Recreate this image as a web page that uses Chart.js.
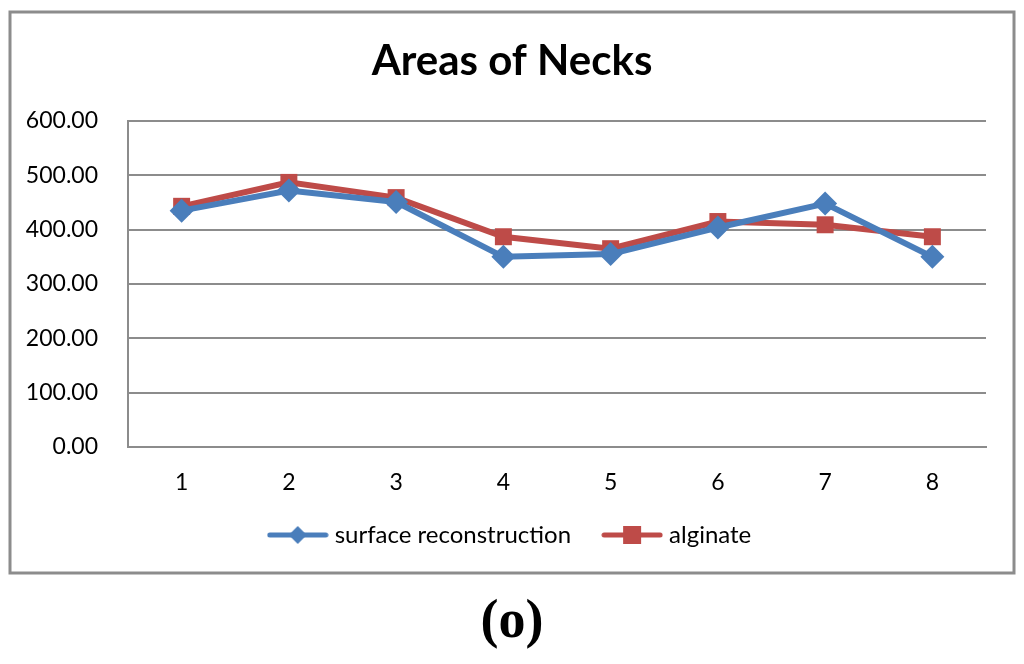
<!DOCTYPE html>
<html>
<head>
<meta charset="utf-8">
<script src="https://cdn.jsdelivr.net/npm/chart.js@4"></script>
<style>
  body { margin: 0; background: #fff; }
  #wrap { position: relative; width: 1024px; height: 664px; }
  #myChart { position: absolute; left: 0; top: 0; }
  #caption { position: absolute; left: 0; width: 1024px; top: 588px; text-align: center;
    font-family: "Liberation Serif", "DejaVu Serif", serif; font-weight: bold; font-size: 54px; color: #000; }
</style>
</head>
<body>
<div id="wrap">
  <canvas id="myChart" width="1024" height="664"></canvas>
  <div id="caption">(o)</div>
</div>
<script>
const categories = ['1', '2', '3', '4', '5', '6', '7', '8'];
const surfaceReconstruction = [435, 472, 451, 350, 355, 404, 448, 350];
const alginate = [443, 487, 459, 387, 365, 415, 409, 387];
const yTicks = [0, 100, 200, 300, 400, 500, 600];

const BLUE = '#4a7ebb';
const RED = '#be4b48';
const FONT = 'Lato, "Open Sans", sans-serif';

// legend swatch: line with marker on it
const makeSwatch = (color, shape) => {
  const c = document.createElement('canvas');
  c.width = 62; c.height = 24;
  const g = c.getContext('2d');
  g.strokeStyle = color; g.lineWidth = 5; g.lineCap = 'round';
  g.beginPath(); g.moveTo(3, 12); g.lineTo(59, 12); g.stroke();
  g.fillStyle = color;
  if (shape === 'diamond') {
    g.beginPath(); g.moveTo(31, 3); g.lineTo(40, 12); g.lineTo(31, 21); g.lineTo(22, 12); g.closePath(); g.fill();
  } else {
    g.fillRect(22, 3, 18, 18);
  }
  return c;
};

const frame = {
  id: 'frame',
  beforeDraw(chart) {
    const ctx = chart.ctx;
    ctx.save();
    ctx.fillStyle = '#fff';
    ctx.fillRect(0, 0, chart.width, chart.height);
    ctx.strokeStyle = '#8c8c8c';
    ctx.lineWidth = 3;
    ctx.strokeRect(10, 12, 1004, 561);
    ctx.restore();
  }
};

const ctx = document.getElementById('myChart').getContext('2d');
const myChart = new Chart(ctx, {
  type: 'line',
  data: {
    labels: categories,
    datasets: [
      {
        label: 'surface reconstruction',
        data: surfaceReconstruction,
        borderColor: BLUE,
        backgroundColor: BLUE,
        borderWidth: 6,
        pointStyle: 'rectRot',
        pointRadius: 12,
        pointBorderWidth: 0,
        tension: 0,
      },
      {
        label: 'alginate',
        data: alginate,
        borderColor: RED,
        backgroundColor: RED,
        borderWidth: 6,
        pointStyle: 'rect',
        pointRadius: 12,
        pointBorderWidth: 0,
        tension: 0,
      },
    ],
  },
  options: {
    responsive: false,
    animation: false,
    events: [],
    layout: { padding: { left: 0, right: 0, top: 0, bottom: 107 } },
    plugins: {
      title: {
        display: true,
        text: 'Areas of Necks',
        color: '#000',
        font: { family: FONT, size: 42, weight: 'bold' },
        padding: { top: 36, bottom: 34.6 },
      },
      legend: {
        position: 'bottom',
        labels: {
          color: '#000',
          font: { family: FONT, size: 24 },
          usePointStyle: true,
          pointStyleWidth: 50,
          padding: 36,
          generateLabels: (chart) => chart.data.datasets.map((ds, i) => ({
            text: ds.label,
            pointStyle: makeSwatch(ds.borderColor, i === 0 ? 'diamond' : 'square'),
            fillStyle: ds.borderColor,
            strokeStyle: ds.borderColor,
            lineWidth: 0,
            datasetIndex: i,
            hidden: false,
          })),
        },
      },
      tooltip: { enabled: false },
    },
    scales: {
      x: {
        offset: true,
        grid: { display: false, drawTicks: false },
        border: { color: '#8c8c8c', width: 2 },
        // mirror keeps the labels from being clipped to the short axis box
        ticks: { color: '#000', font: { family: FONT, size: 23 }, mirror: true, padding: -49 },
        afterFit: (s) => { s.height = 40; },
      },
      y: {
        min: 0,
        max: 600,
        afterBuildTicks: (s) => { s.ticks = yTicks.map((v) => ({ value: v })); },
        grid: { color: '#8c8c8c', lineWidth: 2, drawTicks: false },
        border: { color: '#8c8c8c', width: 2 },
        ticks: {
          color: '#000',
          font: { family: FONT, size: 23 },
          padding: 30,
          callback: (v) => Number(v).toFixed(2),
        },
        afterFit: (s) => { s.width = 128; },
      },
      y2: {
        position: 'right',
        grid: { display: false, drawTicks: false },
        border: { display: false },
        ticks: { display: false },
        afterFit: (s) => { s.width = 38; },
      },
    },
  },
  plugins: [frame],
});
</script>
</body>
</html>
